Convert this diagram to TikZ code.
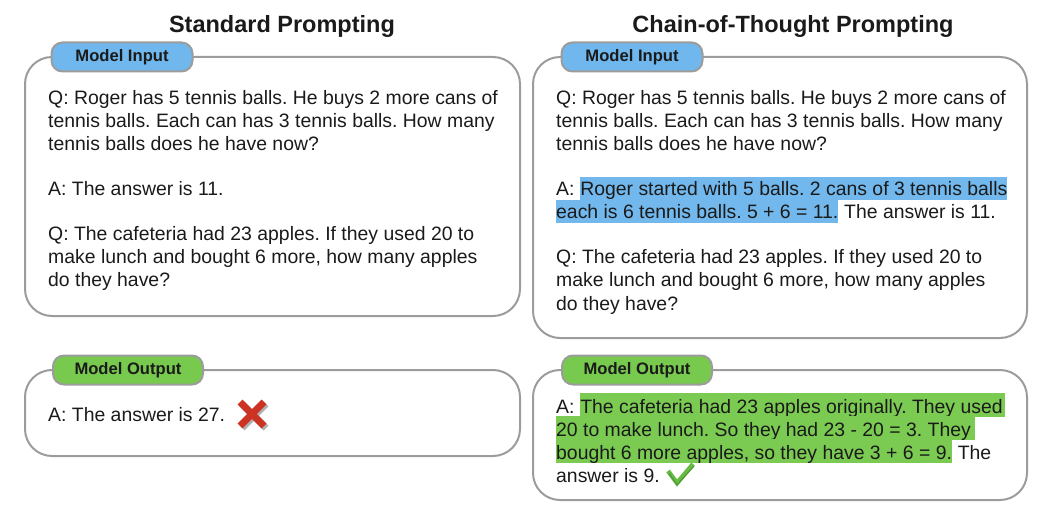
\documentclass[tikz,border=0pt]{standalone}
\usepackage{fontspec}
\setmainfont{Liberation Sans}
\frenchspacing
\definecolor{textc}{HTML}{1A1A1A}
\definecolor{boxc}{HTML}{9C9C9C}
\definecolor{pillblue}{HTML}{6FB7EC}
\definecolor{pillgreen}{HTML}{78CA4F}
\definecolor{hlblue}{HTML}{72B8EC}
\definecolor{hlgreen}{HTML}{7BCB52}
\definecolor{xred}{HTML}{CC3322}
\definecolor{xshadow}{HTML}{B0B0B0}
\definecolor{checkc}{HTML}{68BC45}
\definecolor{checkd}{HTML}{4E9A33}
\newcommand{\bodyfont}{\fontsize{19.4}{23}\selectfont\frenchspacing}
\begin{document}
\begin{tikzpicture}[x=1pt,y=-1pt,
  txt/.style={anchor=base west, inner sep=0pt, font=\bodyfont, text=textc},
  hlb/.style={txt, fill=hlblue, text height=19pt, text depth=4pt},
  hlg/.style={txt, fill=hlgreen, text height=20pt, text depth=3.5pt},
  panel/.style={draw=boxc, line width=2pt, rounded corners=27pt},
  pill/.style={draw=boxc, line width=2pt, rounded corners=11pt, minimum height=29pt, inner sep=0pt, font=\bfseries\fontsize{16.6}{18}\selectfont, text=textc},
  title/.style={anchor=base, inner sep=0pt, font=\bfseries\fontsize{23.5}{26}\selectfont, text=textc}
]
\useasboundingbox (0,0) rectangle (1043,518);

% titles
\node[title] (t1) at (282,33) {Standard Prompting};
\node[title] (t2) at (793,33) {Chain-of-Thought Prompting};

% panels
\draw[panel] (25,57) rectangle (520,316);
\draw[panel] (25,370) rectangle (520,456);
\draw[panel] (533,57) rectangle (1027,338);
\draw[panel] (533,370) rectangle (1027,500);

% pills
\node[pill, fill=pillblue, minimum width=141pt] (p1) at (122,57) {Model Input};
\node[pill, fill=pillblue, minimum width=141pt] (p2) at (632,57) {Model Input};
\node[pill, fill=pillgreen, minimum width=150pt] (p3) at (128,370) {Model Output};
\node[pill, fill=pillgreen, minimum width=150pt] (p4) at (637,370) {Model Output};

% left input
\node[txt] (l1) at (48,105) {Q: Roger has 5 tennis balls. He buys 2 more cans of};
\node[txt] (l2) at (48,128) {tennis balls. Each can has 3 tennis balls. How many};
\node[txt] (l3) at (48,151) {tennis balls does he have now?};
\node[txt] (l4) at (48,196) {A: The answer is 11.};
\node[txt] (l5) at (48,241) {Q: The cafeteria had 23 apples. If they used 20 to};
\node[txt] (l6) at (48,264) {make lunch and bought 6 more, how many apples};
\node[txt] (l7) at (48,287) {do they have?};

% left output
\node[txt] (lo1) at (48,421) {A: The answer is 27.};
\coordinate (xc) at (252,414);
\draw[xshadow, line width=7pt] ([shift={(-12,-12)}]xc) ++(2,2) -- ++(24,24);
\draw[xshadow, line width=7pt] ([shift={(12,-12)}]xc) ++(2,2) -- ++(-24,24);
\draw[xred, line width=7pt] ([shift={(-12,-12)}]xc) -- ([shift={(12,12)}]xc);
\draw[xred, line width=7pt] ([shift={(12,-12)}]xc) -- ([shift={(-12,12)}]xc);

% right input
\node[txt] (r1) at (556,105) {Q: Roger has 5 tennis balls. He buys 2 more cans of};
\node[txt] (r2) at (556,128) {tennis balls. Each can has 3 tennis balls. How many};
\node[txt] (r3) at (556,151) {tennis balls does he have now?};
\node[txt] (r4a) at (556,196) {A:\ \null};
\node[hlb] (r4b) at (r4a.base east) {Roger started with 5 balls. 2 cans of 3 tennis balls};
\node[hlb] (r5a) at (556,219) {each is 6 tennis balls. 5 + 6 = 11.};
\node[txt] (r5b) at (r5a.base east) {\null\ The answer is 11.};
\node[txt] (r6) at (556,264) {Q: The cafeteria had 23 apples. If they used 20 to};
\node[txt] (r7) at (556,287) {make lunch and bought 6 more, how many apples};
\node[txt] (r8) at (556,310) {do they have?};

% right output
\node[txt] (o1a) at (556,413) {A:\ \null};
\node[hlg] (o1b) at (o1a.base east) {The cafeteria had 23 apples originally. They used\hspace{2pt}\null};
\node[hlg] (o2) at (556,436) {20 to make lunch. So they had 23 - 20 = 3. They\hspace{4pt}\null};
\node[hlg] (o3a) at (556,459) {bought 6 more apples, so they have 3 + 6 = 9.};
\node[txt] (o3b) at (o3a.base east) {\null\ The};
\node[txt] (o4) at (556,482) {answer is 9.};
\coordinate (ck1) at (668,471);
\coordinate (ck2) at (677,483);
\coordinate (ck3) at (693,464);
\draw[checkc, line width=4.5pt, line join=miter] (ck1) -- (ck2) -- (ck3);
\draw[checkd, line width=1.2pt] ([shift={(1,2)}]ck1) -- ([shift={(0,2)}]ck2) -- ([shift={(1,2)}]ck3);
\end{tikzpicture}
\end{document}
